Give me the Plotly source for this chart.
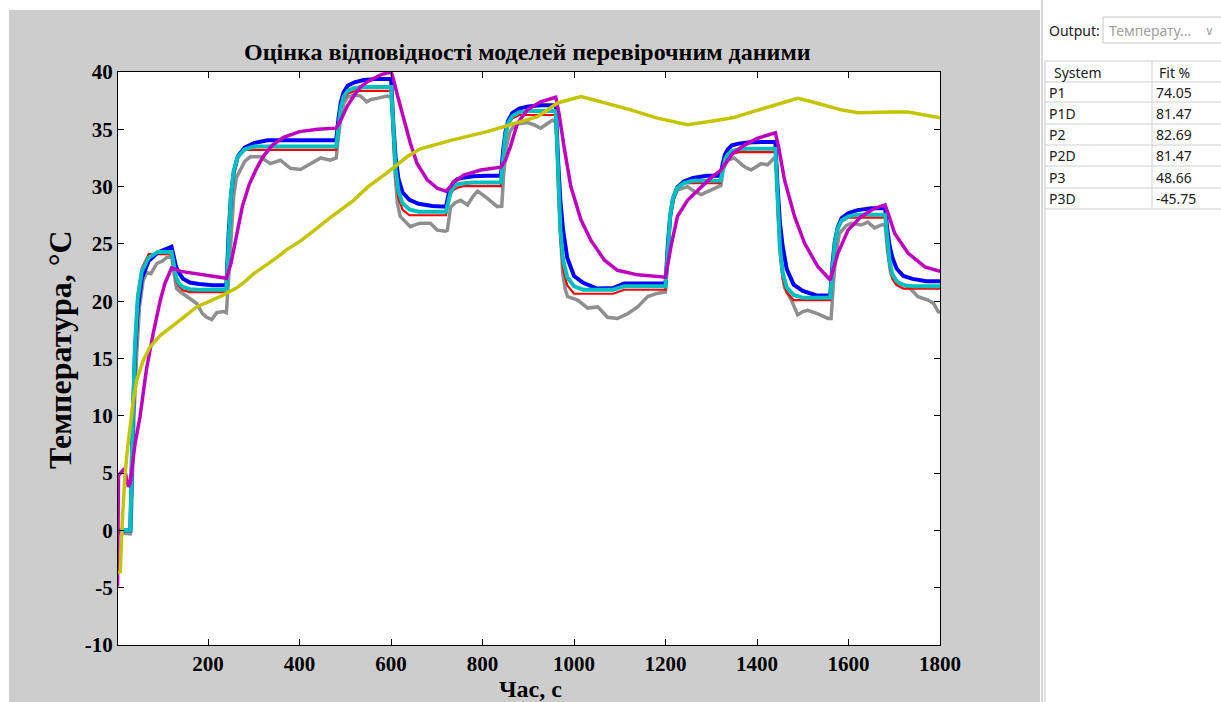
import plotly.graph_objects as go

# ---------------- data ----------------
x_ticks = [200, 400, 600, 800, 1000, 1200, 1400, 1600, 1800]
y_ticks = [-10, -5, 0, 5, 10, 15, 20, 25, 30, 35, 40]

# measured output (grey)
meas_t = [2, 30, 33, 38, 44, 50, 58, 66, 75, 88, 100, 109, 120,
          124, 128, 131, 140, 153, 165, 175, 188, 197, 208, 219, 233, 240,
          244, 250, 256, 262, 270, 280, 292, 314, 336, 358, 380, 402, 424, 446, 467, 480,
          484, 490, 497, 505, 520, 533, 547, 556, 569, 591, 600,
          604, 609, 614, 620, 630, 642, 655, 664, 686, 701, 719, 723,
          727, 730, 740, 752, 767, 780, 789, 810, 832, 842,
          846, 852, 860, 870, 883, 897, 912, 927, 942, 953, 960,
          964, 969, 975, 981, 986, 1008, 1030, 1052, 1073, 1095, 1117, 1139, 1161, 1183, 1200,
          1205, 1211, 1218, 1226, 1248, 1262, 1278, 1299, 1321,
          1326, 1335, 1350, 1372, 1387, 1409, 1423, 1438, 1442,
          1447, 1453, 1460, 1475, 1489, 1500, 1511, 1533, 1555, 1562,
          1566, 1572, 1580, 1595, 1606, 1628, 1642, 1657, 1672, 1680,
          1685, 1692, 1701, 1715, 1730, 1752, 1774, 1786, 1796, 1800]
meas_v = [-0.2, -0.3, 2.0, 10.0, 15.5, 19.5, 21.8, 22.5, 22.4, 23.3, 23.5, 23.8, 23.9,
          23.0, 21.8, 21.1, 20.8, 20.4, 20.1, 19.8, 18.9, 18.6, 18.4, 19.0, 19.1, 19.0,
          21.5, 26.0, 29.2, 30.8, 31.5, 32.2, 32.6, 32.6, 32.0, 32.3, 31.6, 31.5, 32.0, 32.5, 32.3, 32.5,
          34.0, 36.0, 37.3, 37.8, 38.0, 37.9, 37.4, 37.6, 37.7, 37.9, 37.8,
          35.5, 31.0, 28.5, 27.4, 27.0, 26.5, 26.7, 26.8, 26.8, 26.2, 26.1, 26.2,
          27.3, 28.2, 28.6, 28.8, 28.4, 29.2, 29.6, 29.0, 28.25, 28.3,
          31.0, 33.5, 34.8, 35.4, 35.5, 35.6, 35.4, 35.1, 35.5, 35.8, 35.6,
          33.0, 27.0, 22.5, 21.0, 20.4, 20.1, 19.4, 19.5, 18.6, 18.5, 18.9, 19.5, 20.4, 20.7, 20.8,
          24.0, 27.5, 29.0, 29.7, 30.0, 29.6, 29.3, 29.7, 30.1,
          31.5, 32.3, 32.5, 31.75, 31.45, 32.0, 31.9, 32.5, 32.3,
          28.0, 23.5, 21.2, 20.1, 18.8, 19.1, 19.2, 18.9, 18.5, 18.5,
          21.0, 24.0, 25.9, 26.6, 26.8, 26.65, 26.9, 26.4, 26.65, 26.7,
          24.5, 22.5, 21.7, 21.5, 21.3, 20.4, 20.1, 19.8, 19.1, 19.0]

# P2 (red)
p2_t = [2, 30, 35, 40, 46, 55, 70, 120,
        125, 130, 136, 145, 160, 240,
        245, 250, 256, 265, 280, 480,
        485, 490, 496, 505, 520, 600,
        605, 610, 616, 625, 640, 720,
        725, 730, 736, 745, 760, 840,
        845, 850, 856, 865, 880, 960,
        965, 970, 976, 985, 1000, 1085, 1110, 1200,
        1205, 1210, 1216, 1225, 1240, 1320,
        1325, 1330, 1336, 1345, 1360, 1440,
        1445, 1450, 1456, 1465, 1480, 1560,
        1565, 1570, 1576, 1585, 1600, 1680,
        1685, 1690, 1696, 1705, 1720, 1800]
p2_v = [0.0, 0.0, 10.1, 16.9, 20.7, 22.9, 24.1, 24.1,
        22.7, 21.8, 21.3, 20.95, 20.8, 20.8,
        26.0, 29.5, 31.5, 32.6, 33.2, 33.2,
        35.4, 36.8, 37.6, 38.1, 38.35, 38.35,
        33.8, 30.8, 29.0, 28.0, 27.5, 27.5,
        28.6, 29.3, 29.7, 29.9, 30.05, 30.05,
        32.65, 34.4, 35.4, 35.95, 36.25, 36.25,
        29.7, 25.3, 22.8, 21.4, 20.65, 20.65, 21.0, 21.0,
        24.9, 27.5, 29.0, 29.85, 30.3, 30.3,
        31.4, 32.2, 32.6, 32.85, 33.0, 33.0,
        27.6, 24.0, 21.9, 20.75, 20.1, 20.1,
        23.1, 25.1, 26.3, 26.95, 27.3, 27.3,
        24.7, 22.95, 21.95, 21.4, 21.1, 21.1]

# P1D / P2D (cyan)
p1d_t = [2, 30, 35, 40, 46, 55, 70, 90, 120,
         125, 130, 136, 145, 160, 180, 240,
         245, 250, 256, 265, 280, 300, 480,
         485, 490, 496, 505, 520, 540, 600,
         605, 610, 616, 625, 640, 660, 720,
         725, 730, 736, 745, 760, 780, 840,
         845, 850, 856, 865, 880, 900, 960,
         965, 970, 976, 985, 1000, 1020, 1085, 1110, 1200,
         1205, 1210, 1216, 1225, 1240, 1260, 1320,
         1325, 1330, 1336, 1345, 1360, 1380, 1440,
         1445, 1450, 1456, 1465, 1480, 1500, 1560,
         1565, 1570, 1576, 1585, 1600, 1620, 1680,
         1685, 1690, 1696, 1705, 1720, 1740, 1800]
p1d_v = [0.0, 0.0, 9.2, 16.0, 20.2, 22.6, 23.8, 24.3, 24.3,
         23.05, 22.1, 21.55, 21.25, 21.05, 21.0, 21.0,
         25.75, 29.25, 31.4, 32.6, 33.25, 33.5, 33.5,
         35.5, 36.9, 37.8, 38.35, 38.6, 38.7, 38.7,
         34.55, 31.5, 29.65, 28.55, 28.0, 27.8, 27.8,
         28.75, 29.5, 29.9, 30.2, 30.3, 30.35, 30.35,
         32.75, 34.5, 35.55, 36.15, 36.5, 36.6, 36.6,
         30.7, 26.3, 23.65, 22.1, 21.3, 21.0, 21.0, 21.3, 21.3,
         24.8, 27.4, 28.95, 29.85, 30.3, 30.5, 30.5,
         31.55, 32.35, 32.8, 33.1, 33.25, 33.3, 33.3,
         28.4, 24.7, 22.5, 21.2, 20.55, 20.3, 20.3,
         23.05, 25.1, 26.3, 27.05, 27.4, 27.55, 27.55,
         25.2, 23.4, 22.35, 21.75, 21.4, 21.3, 21.3]

# P1 (blue)
p1_t = [2, 30, 35, 40, 46, 55, 70, 90, 120,
        125, 130, 136, 145, 160, 180, 210, 240,
        245, 250, 256, 265, 280, 300, 330, 480,
        485, 490, 496, 505, 520, 540, 570, 600,
        605, 610, 616, 625, 640, 660, 690, 720,
        725, 730, 736, 745, 760, 780, 810, 840,
        845, 850, 856, 865, 880, 900, 930, 960,
        965, 970, 976, 985, 1000, 1020, 1050, 1085, 1110, 1200,
        1205, 1210, 1216, 1225, 1240, 1260, 1290, 1320,
        1325, 1330, 1336, 1345, 1360, 1380, 1410, 1440,
        1445, 1450, 1456, 1465, 1480, 1500, 1530, 1560,
        1565, 1570, 1576, 1585, 1600, 1620, 1650, 1680,
        1685, 1690, 1696, 1705, 1720, 1740, 1770, 1800]
p1_v = [0.0, 0.0, 8.9, 15.35, 19.3, 22.0, 23.5, 24.25, 24.75,
        23.75, 23.0, 22.5, 21.97, 21.63, 21.5, 21.4, 21.4,
        25.95, 29.25, 31.25, 32.65, 33.4, 33.8, 34.05, 34.05,
        35.95, 37.35, 38.2, 38.8, 39.1, 39.3, 39.4, 39.4,
        35.4, 32.5, 30.7, 29.5, 28.85, 28.5, 28.3, 28.25,
        29.2, 29.9, 30.35, 30.65, 30.8, 30.9, 30.95, 30.95,
        33.15, 34.75, 35.75, 36.4, 36.8, 37.0, 37.1, 37.1,
        32.3, 28.8, 26.2, 23.8, 22.2, 21.6, 21.1, 21.15, 21.55, 21.55,
        24.95, 27.4, 28.9, 29.9, 30.45, 30.75, 30.95, 30.95,
        32.0, 32.8, 33.25, 33.6, 33.75, 33.85, 33.9, 33.9,
        29.9, 26.9, 24.8, 22.8, 21.45, 20.9, 20.5, 20.5,
        23.25, 25.2, 26.4, 27.25, 27.7, 27.95, 28.1, 28.1,
        26.2, 24.8, 23.8, 22.85, 22.2, 21.95, 21.75, 21.75]

# P3 (magenta)
p3_t = [2, 4, 17, 26, 30, 40, 51, 65, 80, 95, 105, 120,
        140, 170, 200, 240,
        250, 263, 275, 290, 305, 320, 340, 365, 400, 440, 480,
        490, 504, 520, 533, 550, 562, 580, 600,
        605, 613, 628, 642, 657, 679, 701, 720,
        730, 737, 759, 796, 840,
        850, 861, 876, 898, 927, 960,
        967, 978, 993, 1015, 1037, 1066, 1095, 1139, 1200,
        1212, 1226, 1248, 1278, 1300, 1320,
        1335, 1347, 1372, 1400, 1440,
        1447, 1460, 1482, 1504, 1533, 1560,
        1577, 1599, 1628, 1657, 1680,
        1688, 1701, 1730, 1767, 1800]
p3_v = [-4.9, 4.8, 5.4, 3.8, 4.2, 7.5, 9.9, 14.0, 17.2, 20.0, 21.5, 22.9,
        22.6, 22.4, 22.2, 22.0,
        23.3, 26.0, 28.3, 30.2, 31.5, 32.6, 33.6, 34.3, 34.8, 35.0, 35.1,
        35.8, 37.0, 38.0, 38.7, 39.2, 39.45, 39.8, 40.0,
        39.4, 38.1, 35.8, 33.8, 32.0, 30.6, 29.85, 29.6,
        30.0, 30.4, 31.0, 31.45, 31.7,
        32.3, 33.5, 35.5, 36.7, 37.4, 37.8,
        36.4, 33.5, 30.0, 27.1, 25.3, 23.6, 22.7, 22.3, 22.1,
        24.8, 27.4, 28.8, 30.0, 30.8, 31.4,
        32.3, 32.9, 33.6, 34.2, 34.7,
        33.5, 30.6, 27.4, 25.05, 23.0, 21.85,
        24.2, 26.2, 27.4, 28.1, 28.4,
        27.5, 25.9, 24.2, 23.0, 22.6]

# P3D (yellow)
p3d_t = [2, 8, 12, 18, 24, 29, 36, 44, 58, 73, 95, 131, 175, 226, 260, 277, 300,
         321, 350, 372, 400, 423, 445, 467, 518, 550, 591, 635, 664, 700, 737, 810,
         883, 920, 964, 990, 1015, 1040, 1080, 1124, 1180, 1248, 1300, 1347, 1387,
         1430, 1475, 1489, 1520, 1584, 1621, 1660, 1693, 1730, 1760, 1800]
p3d_v = [-3.7, -3.6, 0.5, 4.7, 7.2, 8.8, 11.2, 13.1, 14.8, 16.0, 17.0, 18.1, 19.5, 20.4, 21.1, 21.6, 22.4,
         23.0, 23.8, 24.5, 25.2, 25.9, 26.6, 27.3, 28.8, 30.0, 31.2, 32.6, 33.3, 33.7, 34.1, 34.8,
         35.7, 36.1, 37.3, 37.6, 37.85, 37.6, 37.2, 36.7, 36.0, 35.4, 35.7, 36.0, 36.5,
         37.0, 37.55, 37.7, 37.4, 36.7, 36.45, 36.5, 36.5, 36.5, 36.3, 36.0]

systems = ["P1", "P1D", "P2", "P2D", "P3", "P3D"]
fits = ["74.05", "81.47", "82.69", "81.47", "48.66", "-45.75"]

# ---------------- figure ----------------
W, H = 1221, 702
L, R, T, B = 118, 940, 72, 645   # plot area in pixels


def px(x):
    return (x - L) / (R - L)


def py(y):
    return (B - y) / (B - T)


fig = go.Figure()
series = [
    ("Measured", meas_t, meas_v, "#8f8f8f", 3.5),
    ("P2", p2_t, p2_v, "#ff0000", 2.2),
    ("P1", p1_t, p1_v, "#0000ff", 4),
    ("P1D", p1d_t, p1d_v, "#00bfbf", 4),
    ("P3", p3_t, p3_v, "#bf00bf", 3.5),
    ("P3D", p3d_t, p3d_v, "#c4c400", 3.5),
]
for name, t, v, c, w in series:
    fig.add_trace(go.Scatter(x=t, y=v, mode="lines", name=name,
                             line=dict(color=c, width=w), hoverinfo="skip"))

serif = "Liberation Serif"
axis_common = dict(showline=True, linecolor="black", linewidth=1, mirror="ticks",
                   ticks="inside", ticklen=6, tickcolor="black", showgrid=False,
                   zeroline=False,
                   tickfont=dict(family=serif, size=21, color="black", weight="bold"))
fig.update_xaxes(range=[3, 1800], tickvals=x_ticks, ticktext=[str(v) for v in x_ticks],
                 **axis_common)
fig.update_yaxes(range=[-10, 40], tickvals=y_ticks, ticktext=[str(v) for v in y_ticks],
                 **axis_common)

shapes = [
    dict(type="rect", xref="paper", yref="paper", x0=px(9), x1=px(1040), y0=py(702), y1=py(10),
         fillcolor="#cdcdcd", line=dict(width=0), layer="below"),
    dict(type="rect", xref="paper", yref="paper", x0=0, x1=1, y0=0, y1=1,
         fillcolor="white", line=dict(width=0), layer="below"),
    dict(type="line", xref="paper", yref="paper", x0=px(1042), x1=px(1042), y0=py(702), y1=py(0),
         line=dict(color="#b0b0b0", width=1)),
    dict(type="line", xref="paper", yref="paper", x0=px(1045), x1=px(1045), y0=py(702), y1=py(61),
         line=dict(color="#c8c8c8", width=1)),
    # dropdown box
    dict(type="rect", xref="paper", yref="paper", x0=px(1103), x1=px(1230), y0=py(43), y1=py(17),
         fillcolor="white", line=dict(color="#c8c8c8", width=1)),
]
# table grid
row_y = [61, 82, 102, 124, 145, 166, 188, 209]
for yy in row_y:
    shapes.append(dict(type="line", xref="paper", yref="paper", x0=px(1045), x1=px(1221),
                       y0=py(yy), y1=py(yy), line=dict(color="#d0d0d0", width=1)))
shapes.append(dict(type="line", xref="paper", yref="paper", x0=px(1152), x1=px(1152),
                   y0=py(209), y1=py(61), line=dict(color="#d0d0d0", width=1)))

ui = "Noto Sans"
ann = [
    dict(text="Оцінка відповідності моделей перевірочним даними", x=px(527), y=py(52),
         font=dict(family=serif, size=24, color="black", weight="bold")),
    dict(text="Температура, °C", x=px(60), y=py(350), textangle=-90,
         font=dict(family=serif, size=32, color="black", weight="bold")),
    dict(text="Час, с", x=px(530), y=py(689),
         font=dict(family=serif, size=24, color="black", weight="bold")),
    dict(text="Output:", x=px(1047), y=py(30), xanchor="left",
         font=dict(family=ui, size=14, color="#202020")),
    dict(text="Температу...", x=px(1107), y=py(30), xanchor="left",
         font=dict(family=ui, size=14, color="#a0a0a0")),
    dict(text="∨", x=px(1209), y=py(30),
         font=dict(family=ui, size=12, color="#a0a0a0")),
    dict(text="System", x=px(1052), y=py(72), xanchor="left",
         font=dict(family=ui, size=14, color="#202020")),
    dict(text="Fit %", x=px(1157), y=py(72), xanchor="left",
         font=dict(family=ui, size=14, color="#202020")),
]
for i, (s, f) in enumerate(zip(systems, fits)):
    yc = (row_y[i + 1] + row_y[i + 2]) / 2
    ann.append(dict(text=s, x=px(1047), y=py(yc), xanchor="left",
                    font=dict(family=ui, size=14, color="#202020")))
    ann.append(dict(text=f, x=px(1154), y=py(yc), xanchor="left",
                    font=dict(family=ui, size=14, color="#202020")))
for a in ann:
    a.update(xref="paper", yref="paper", showarrow=False,
             yanchor=a.get("yanchor", "middle"), xanchor=a.get("xanchor", "center"))

fig.update_layout(width=W, height=H, margin=dict(l=L, r=W - R, t=T, b=H - B),
                  paper_bgcolor="white", plot_bgcolor="white", showlegend=False,
                  shapes=shapes, annotations=ann)

fig.write_html("out.html", config={"displayModeBar": False},
               post_script="document.body.style.margin='0px';"
                           "document.body.style.overflow='hidden';")
